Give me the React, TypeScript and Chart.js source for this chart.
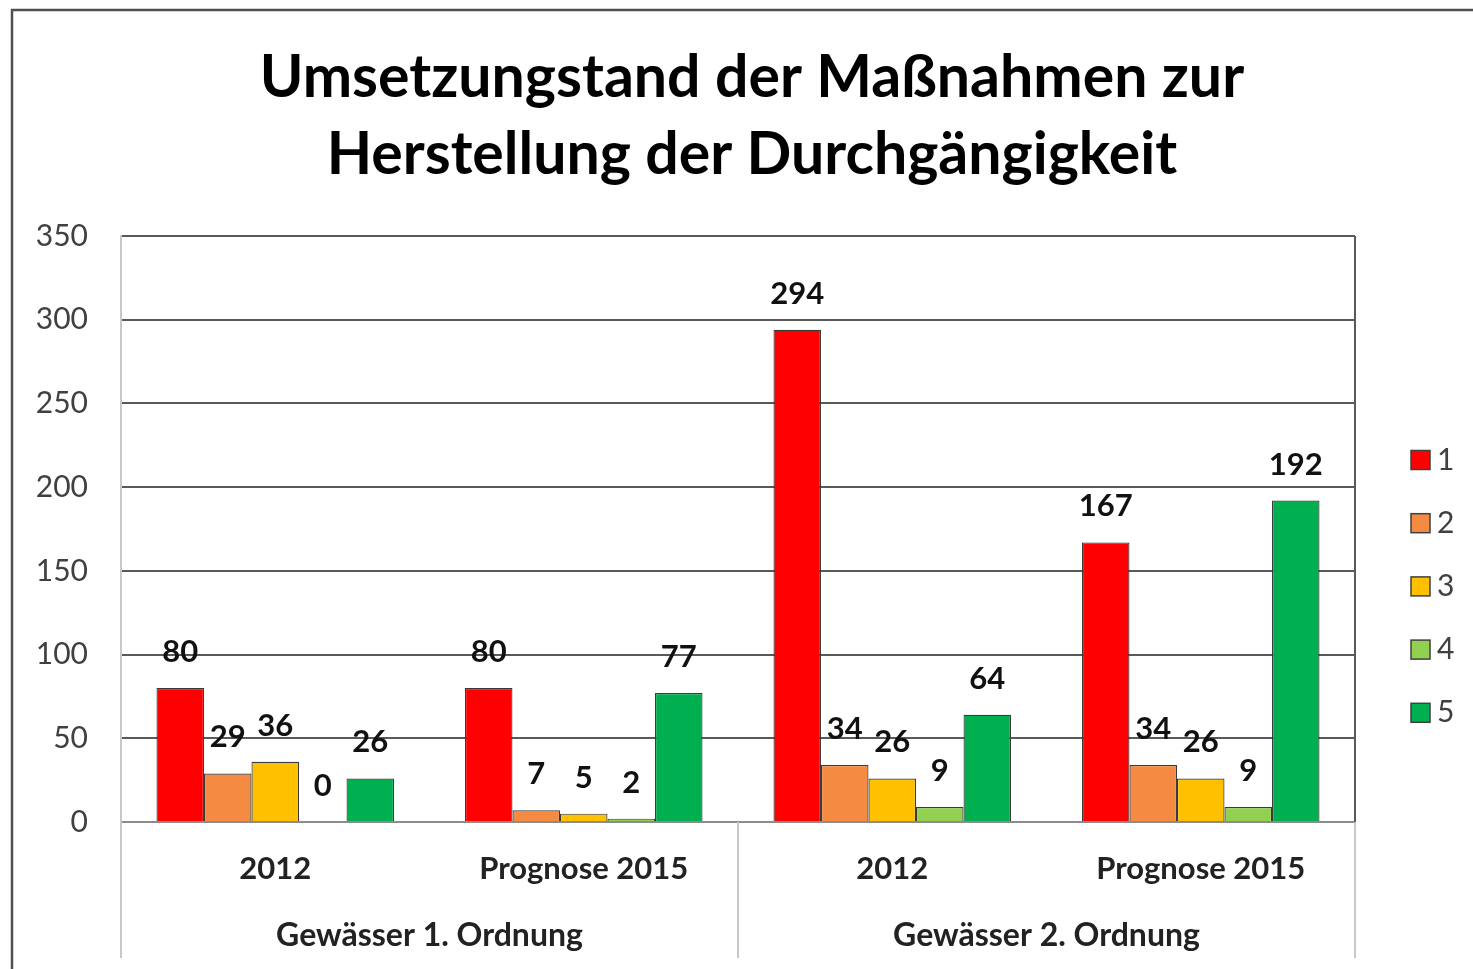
import React, { useEffect, useRef } from 'react';
import { Chart, registerables } from 'chart.js';
Chart.register(...registerables);

const TITLE_LINES = ['Umsetzungstand der Maßnahmen zur', 'Herstellung der Durchgängigkeit'];
const categories = ['2012', 'Prognose 2015', '2012', 'Prognose 2015'];
const groups = ['Gewässer 1. Ordnung', 'Gewässer 2. Ordnung'];
const seriesLabels = ['1', '2', '3', '4', '5'];
const series1 = [80, 80, 294, 167];
const series2 = [29, 7, 34, 34];
const series3 = [36, 5, 26, 26];
const series4 = [0, 2, 9, 9];
const series5 = [26, 77, 64, 192];
const seriesColors = ['#FF0000', '#F58A42', '#FFC000', '#92D050', '#00B050'];
const yMin = 0;
const yMax = 350;
const yStep = 50;

const FONT = 'Lato, "Open Sans", sans-serif';

const decorPlugin = {
  id: 'decor',
  beforeDraw(chart: any) {
    const { ctx, width, height } = chart;
    ctx.save();
    ctx.fillStyle = '#ffffff';
    ctx.fillRect(0, 0, width, height);
    ctx.strokeStyle = '#505050';
    ctx.lineWidth = 2.5;
    ctx.beginPath();
    ctx.moveTo(12, height);
    ctx.lineTo(12, 10);
    ctx.lineTo(width, 10);
    ctx.stroke();
    ctx.restore();
  },
  afterDatasetsDraw(chart: any) {
    const { ctx } = chart;
    ctx.save();
    ctx.font = `bold 31px ${FONT}`;
    ctx.fillStyle = '#111111';
    ctx.textAlign = 'center';
    ctx.textBaseline = 'middle';
    chart.data.datasets.forEach((ds: any, i: number) => {
      const meta = chart.getDatasetMeta(i);
      meta.data.forEach((el: any, j: number) => {
        ctx.fillText(String(ds.data[j]), el.x, el.y - 36);
      });
    });
    ctx.restore();
  },
  afterDraw(chart: any) {
    const { ctx, chartArea } = chart;
    const xs = chart.scales.x;
    ctx.save();
    // right border of plot area
    ctx.strokeStyle = '#595959';
    ctx.lineWidth = 2;
    ctx.beginPath();
    ctx.moveTo(chartArea.right, chartArea.top);
    ctx.lineTo(chartArea.right, chartArea.bottom);
    ctx.stroke();
    // group separators
    const step = xs.getPixelForValue(1) - xs.getPixelForValue(0);
    const left = xs.getPixelForValue(0) - step / 2;
    ctx.strokeStyle = '#C8C8C8';
    ctx.lineWidth = 2;
    for (let g = 0; g <= groups.length; g++) {
      const x = left + g * 2 * step;
      ctx.beginPath();
      ctx.moveTo(x, chartArea.bottom);
      ctx.lineTo(x, 958);
      ctx.stroke();
    }
    // group labels
    ctx.font = `bold 32px ${FONT}`;
    ctx.fillStyle = '#222222';
    ctx.textAlign = 'center';
    ctx.textBaseline = 'middle';
    groups.forEach((g, i) => {
      const cx = left + (i * 2 + 1) * step;
      ctx.fillText(g, cx, 936);
    });
    // title
    ctx.font = `bold 59px ${FONT}`;
    ctx.fillStyle = '#000000';
    ctx.fillText(TITLE_LINES[0], 752, 78);
    ctx.fillText(TITLE_LINES[1], 752, 155);
    // legend
    chart.data.datasets.forEach((ds: any, i: number) => {
      const y = 460 + i * 63.2;
      ctx.fillStyle = ds.backgroundColor;
      ctx.fillRect(1411, y - 9.5, 19, 19);
      ctx.strokeStyle = '#404040';
      ctx.lineWidth = 1.5;
      ctx.strokeRect(1411, y - 9.5, 19, 19);
      ctx.fillStyle = '#404040';
      ctx.font = `30px ${FONT}`;
      ctx.textAlign = 'left';
      ctx.fillText(ds.label, 1437, y);
    });
    ctx.restore();
  },
};

export default function App() {
  const ref = useRef<HTMLCanvasElement>(null);
  useEffect(() => {
    document.body.style.margin = '0';
    const allSeries = [series1, series2, series3, series4, series5];
    const chart = new Chart(ref.current!, {
      type: 'bar',
      data: {
        labels: categories,
        datasets: allSeries.map((d, i) => ({
          label: seriesLabels[i],
          data: d,
          backgroundColor: seriesColors[i],
          borderColor: '#3A3A3A',
          borderWidth: 1.2,
          categoryPercentage: 0.77,
          barPercentage: 1,
        })),
      },
      options: {
        responsive: false,
        animation: false,
        devicePixelRatio: 1,
        layout: { padding: { top: 236, right: 118, left: 0, bottom: 0 } },
        plugins: {
          legend: { display: false },
          title: { display: false },
          tooltip: { enabled: false },
        },
        scales: {
          x: {
            grid: { display: false, drawTicks: false },
            border: { display: true, color: '#8C8C8C', width: 2 },
            ticks: {
              font: { family: FONT, size: 31, weight: 'bold' },
              color: '#222222',
              padding: 28,
              maxRotation: 0,
            },
            afterFit: (s: any) => { s.height = 147; },
          },
          y: {
            min: yMin,
            max: yMax,
            ticks: {
              stepSize: yStep,
              font: { family: FONT, size: 30 },
              color: '#404040',
              padding: 33,
            },
            grid: { color: '#595959', lineWidth: 2, drawTicks: false },
            border: { display: true, color: '#C8C8C8', width: 2 },
            afterFit: (s: any) => { s.width = 121; },
          },
        },
      },
      plugins: [decorPlugin],
    } as any);
    return () => chart.destroy();
  }, []);
  return (
    <div style={{ position: 'fixed', left: 0, top: 0, width: 1473, height: 969, overflow: 'hidden', background: '#fff' }}>
      <canvas ref={ref} width={1473} height={969} style={{ width: 1473, height: 969, display: 'block' }} />
    </div>
  );
}
